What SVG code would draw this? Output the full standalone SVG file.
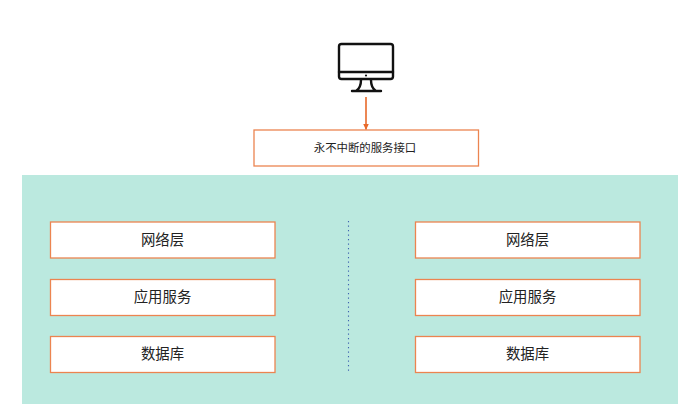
<svg xmlns="http://www.w3.org/2000/svg" width="680" height="407" viewBox="0 0 680 407">
<style>
.b{fill:#fff;stroke:#ec8450;stroke-width:1.300}
.t{font-family:"Liberation Sans","Noto Sans CJK SC",sans-serif;fill:#222;text-anchor:middle}
.l{font-size:14.400px}
.s{font-size:11.400px}
.i{fill:none;stroke:#111;stroke-width:2.400;stroke-linejoin:round;stroke-linecap:round}
</style>
<defs><marker id="a" markerWidth="7" markerHeight="6" refX="6" refY="3" orient="auto" markerUnits="userSpaceOnUse"><path d="M0 0L6.500 3L0 6Z" fill="#e8692a"/></marker></defs>
<rect width="680" height="407" fill="#fff"/>
<g id="container"><rect x="22" y="175" width="656" height="229" fill="#bbe9df"/></g>
<g id="computer">
<rect class="i" x="339" y="44" width="54" height="35" rx="2.500"/>
<path class="i" d="M339 72H393M361 80Q361 88 356 91M371 80Q371 88 376 91M352 91H381"/>
<circle cx="366" cy="75.500" r="1.100" fill="#111"/>
</g>
<g id="connectors">
<path d="M366 97V129.500" fill="none" stroke="#e8692a" stroke-width="1.600" marker-end="url(#a)"/>
<path d="M348.500 221V373" fill="none" stroke="#3f62b0" stroke-width="1.100" stroke-dasharray="1.300 3.200"/>
</g>
<g id="interface"><rect class="b" x="254" y="130" width="224.500" height="36"/><text class="t s" x="365" y="152">永不中断的服务接口</text></g>
<g id="l1"><rect class="b" x="50.500" y="222" width="224.500" height="36"/><text class="t l" x="162.500" y="244.500">网络层</text></g>
<g id="l2"><rect class="b" x="50.500" y="279.500" width="224.500" height="36"/><text class="t l" x="162.500" y="301.500">应用服务</text></g>
<g id="l3"><rect class="b" x="50.500" y="336.500" width="224.500" height="36"/><text class="t l" x="162.500" y="358.500">数据库</text></g>
<g id="r1"><rect class="b" x="415.500" y="222" width="224.500" height="36"/><text class="t l" x="527.500" y="244.500">网络层</text></g>
<g id="r2"><rect class="b" x="415.500" y="279.500" width="224.500" height="36"/><text class="t l" x="527.500" y="301.500">应用服务</text></g>
<g id="r3"><rect class="b" x="415.500" y="336.500" width="224.500" height="36"/><text class="t l" x="527.500" y="358.500">数据库</text></g>
</svg>
